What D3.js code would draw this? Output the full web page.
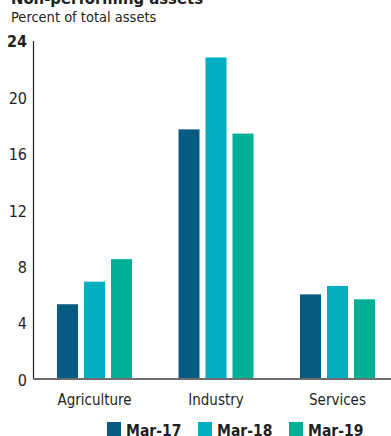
<!DOCTYPE html>
<html>
<head>
<meta charset="utf-8">
<script src="https://cdn.jsdelivr.net/npm/d3@7"></script>
<style>
  body { margin: 0; background: #fff; }
  svg text { font-family: "DejaVu Sans Condensed", "Liberation Sans Narrow", sans-serif; fill: #231f20; }
</style>
</head>
<body>
<svg id="chart" width="391" height="436"></svg>
<script>
var categories = ["Agriculture", "Industry", "Services"];
var seriesNames = ["Mar-17", "Mar-18", "Mar-19"];
var mar17 = [5.3, 17.7, 6.0];
var mar18 = [6.9, 22.8, 6.6];
var mar19 = [8.5, 17.4, 5.65];
var yTicks = [0, 4, 8, 12, 16, 20, 24];
var colors = ["#075a80", "#00adc1", "#00b096"];

var values = [mar17, mar18, mar19];

var svg = d3.select("#chart"),
    width = +svg.attr("width"),
    height = +svg.attr("height");

var y = d3.scaleLinear().domain([0, 24]).range([379, 40.5]);

var x0 = d3.scalePoint().domain(categories).range([94.5, 337.5]);
var x1 = d3.scaleBand().domain(seriesNames).range([-37.5, 37.5]).paddingInner(0.222);

// title (cut off at top) and subtitle
svg.append("text")
    .attr("x", 11).attr("y", 4)
    .style("font-size", "16.5px").style("font-weight", "bold")
    .text("Non-performing assets");
svg.append("text")
    .attr("x", 11).attr("y", 22)
    .style("font-size", "14.5px")
    .text("Percent of total assets");

// bars
var groups = svg.append("g").selectAll("g")
    .data(categories)
    .enter().append("g")
    .attr("transform", function(d) { return "translate(" + x0(d) + ",0)"; });

groups.selectAll("rect")
    .data(function(d, i) {
        return seriesNames.map(function(s, j) { return {key: s, value: values[j][i], idx: j}; });
    })
    .enter().append("rect")
    .attr("x", function(d) { return x1(d.key); })
    .attr("width", x1.bandwidth())
    .attr("y", function(d) { return y(d.value); })
    .attr("height", function(d) { return y(0) - y(d.value); })
    .attr("fill", function(d) { return colors[d.idx]; });

// y axis
var yAxis = svg.append("g")
    .attr("transform", "translate(33,0)")
    .call(d3.axisLeft(y).tickValues(yTicks).tickSize(0).tickPadding(6));
yAxis.select(".domain").attr("stroke", "#231f20").attr("stroke-width", 1.2);
yAxis.selectAll("text")
    .attr("dy", "0.4em")
    .style("font-size", "16px")
    .style("font-weight", function(d) { return d === 24 ? "bold" : "normal"; });

// baseline
svg.append("line")
    .attr("x1", 33).attr("x2", width)
    .attr("y1", y(0)).attr("y2", y(0))
    .attr("stroke", "#6d6e70").attr("stroke-width", 2);

// category labels
svg.append("g").selectAll("text")
    .data(categories)
    .enter().append("text")
    .attr("x", function(d) { return x0(d); })
    .attr("y", 405)
    .attr("text-anchor", "middle")
    .style("font-size", "15px")
    .text(function(d) { return d; });

// legend
var legendX = [107, 198, 289];
var legend = svg.append("g").selectAll("g")
    .data(seriesNames)
    .enter().append("g")
    .attr("transform", function(d, i) { return "translate(" + legendX[i] + ",422)"; });
legend.append("rect")
    .attr("width", 14).attr("height", 14)
    .attr("fill", function(d, i) { return colors[i]; });
legend.append("text")
    .attr("x", 19).attr("y", 13.5)
    .style("font-size", "15.5px").style("font-weight", "bold")
    .text(function(d) { return d; });
</script>
</body>
</html>
